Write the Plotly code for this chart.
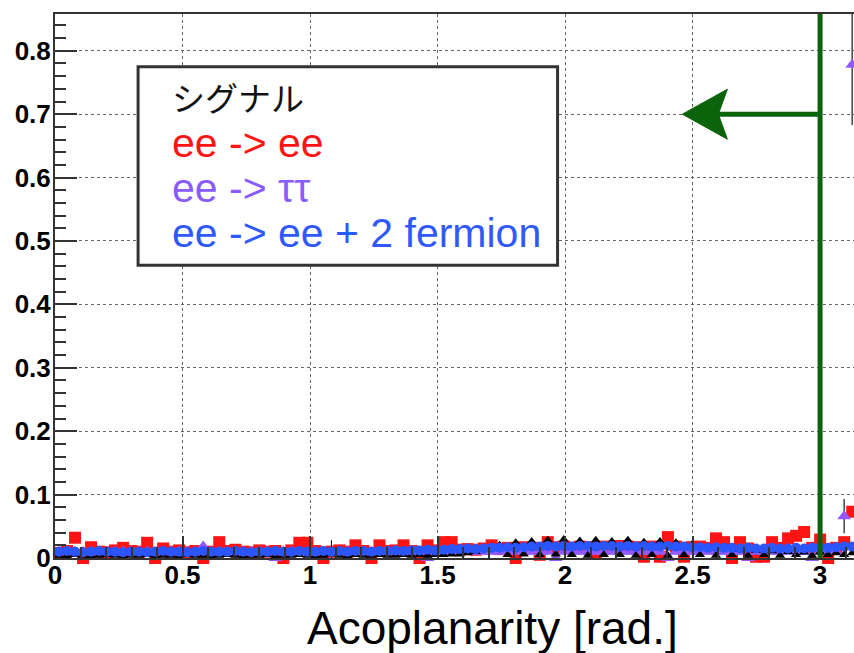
import numpy as np
import plotly.graph_objects as go

# ---------------- data ----------------
N_BINS = 100
X_MIN, X_MAX = 0.0, np.pi
edges = np.linspace(X_MIN, X_MAX, N_BINS + 1)
bin_centers = 0.5 * (edges[:-1] + edges[1:])

signal_vals = [
    0.004, 0.003, 0.005, 0.004, 0.003, 0.004, 0.005, 0.004, 0.003, 0.004,
    0.004, 0.005, 0.003, 0.004, 0.004, 0.003, 0.005, 0.004, 0.004, 0.003,
    0.004, 0.005, 0.004, 0.003, 0.004, 0.004, 0.005, 0.003, 0.004, 0.004,
    0.005, 0.004, 0.003, 0.004, 0.006, 0.004, 0.003, 0.005, 0.004, 0.004,
    0.005, 0.004, 0.004, 0.005, 0.004, 0.005, 0.004, 0.005, 0.005, 0.006,
    0.006, 0.008, 0.010, 0.014, 0.017, 0.020, 0.005, 0.024, 0.006, 0.026,
    0.005, 0.028, 0.006, 0.029, 0.005, 0.027, 0.004, 0.028, 0.005, 0.026,
    0.005, 0.028, 0.004, 0.025, 0.005, 0.026, 0.004, 0.024, 0.005, 0.021,
    0.005, 0.017, 0.004, 0.015, 0.005, 0.013, 0.004, 0.012, 0.005, 0.011,
    0.004, 0.010, 0.005, 0.009, 0.004, 0.009, 0.005, 0.008, 0.005, 0.008,
]
signal_err = [0.003] * 34 + [0.022] + [0.003] * 65

ee_ee_vals = [
    0.008, 0.011, 0.032, 0.000, 0.017, 0.010, 0.009, 0.012, 0.016, 0.011,
    0.010, 0.024, 0.000, 0.015, 0.010, 0.012, 0.009, 0.011, 0.000, 0.010,
    0.025, 0.011, 0.013, 0.010, 0.009, 0.012, 0.010, 0.011, 0.000, 0.012,
    0.024, 0.024, 0.011, 0.000, 0.010, 0.012, 0.010, 0.020, 0.011, 0.000,
    0.020, 0.011, 0.012, 0.020, 0.011, 0.000, 0.020, 0.012, 0.025, 0.025,
    0.013, 0.014, 0.013, 0.015, 0.020, 0.014, 0.016, 0.000, 0.017, 0.016,
    0.005, 0.025, 0.017, 0.018, 0.016, 0.018, 0.017, 0.008, 0.018, 0.017,
    0.019, 0.018, 0.017, 0.002, 0.018, 0.002, 0.033, 0.018, 0.002, 0.017,
    0.018, 0.016, 0.031, 0.025, 0.000, 0.025, 0.015, 0.002, 0.002, 0.025,
    0.016, 0.031, 0.035, 0.041, 0.016, 0.029, 0.000, 0.016, 0.025, 0.073,
]

ee_tautau_vals = [0.010] * N_BINS
for _b, _v in [(18, 0.018), (27, 0.000), (46, 0.000), (62, 0.000), (76, 0.000),
               (86, 0.000), (94, 0.000), (98, 0.066), (99, 0.778)]:
    ee_tautau_vals[_b] = _v
ee_tautau_err = [0.004] * N_BINS
for _b, _e in [(18, 0.008), (98, 0.027), (99, 0.095)]:
    ee_tautau_err[_b] = _e

ee_2f_vals = [
    0.010, 0.011, 0.010, 0.009, 0.010, 0.011, 0.010, 0.010, 0.009, 0.010,
    0.010, 0.009, 0.010, 0.011, 0.010, 0.010, 0.009, 0.010, 0.011, 0.010,
    0.010, 0.010, 0.011, 0.010, 0.009, 0.010, 0.010, 0.011, 0.010, 0.010,
    0.011, 0.010, 0.010, 0.011, 0.010, 0.011, 0.010, 0.011, 0.011, 0.010,
    0.011, 0.011, 0.012, 0.011, 0.012, 0.012, 0.013, 0.012, 0.013, 0.014,
    0.014, 0.015, 0.014, 0.015, 0.016, 0.016, 0.017, 0.016, 0.017, 0.018,
    0.018, 0.019, 0.018, 0.019, 0.018, 0.019, 0.019, 0.018, 0.019, 0.019,
    0.018, 0.019, 0.018, 0.019, 0.018, 0.018, 0.019, 0.018, 0.018, 0.017,
    0.017, 0.016, 0.017, 0.016, 0.016, 0.015, 0.016, 0.015, 0.015, 0.016,
    0.015, 0.015, 0.016, 0.015, 0.016, 0.017, 0.016, 0.017, 0.018, 0.018,
]
ee_2f_err = [0.002] * N_BINS

legend_labels = ["シグナル", "ee -> ee", "ee -> ττ", "ee -> ee + 2 fermion"]
x_ticks = [0, 0.5, 1, 1.5, 2, 2.5, 3]
y_ticks = [0, 0.1, 0.2, 0.3, 0.4, 0.5, 0.6, 0.7, 0.8]
x_title = "Acoplanarity [rad.]"

CUT_VALUE = 3.0
ARROW_TIP = 2.46
ARROW_Y = 0.7

X_RANGE = [0, 3.133]
Y_RANGE = [0, 0.858]

# ---------------- styles ----------------
C_SIG = "#000000"
C_EE = "#ff1414"
C_TAU = "#9358ff"
C_2F = "#2b55ff"
C_GREEN = "#0b630b"
AX = "#333333"
TICKFONT = dict(family="Liberation Sans", size=26, color="black", weight="bold")

fig = go.Figure()

fig.add_trace(go.Scatter(
    x=bin_centers, y=ee_ee_vals, mode="markers", cliponaxis=False,
    marker=dict(symbol="square", size=12, color=C_EE, line=dict(width=0)),
    name=legend_labels[1]))
fig.add_trace(go.Scatter(
    x=bin_centers, y=ee_tautau_vals, mode="markers", cliponaxis=False,
    marker=dict(symbol="triangle-up", size=12, color=C_TAU, line=dict(width=0)),
    error_y=dict(type="data", array=ee_tautau_err, color="#444444", thickness=1.5, width=0),
    name=legend_labels[2]))
fig.add_trace(go.Scatter(
    x=bin_centers, y=signal_vals, mode="markers", cliponaxis=False,
    marker=dict(symbol="triangle-up", size=9, color=C_SIG, line=dict(width=0)),
    error_y=dict(type="data", array=signal_err, color=C_SIG, thickness=1, width=0),
    name=legend_labels[0]))
fig.add_trace(go.Scatter(
    x=bin_centers, y=ee_2f_vals, mode="markers", cliponaxis=False,
    marker=dict(symbol="circle", size=10, color=C_2F, line=dict(width=0)),
    error_y=dict(type="data", array=ee_2f_err, color=C_2F, thickness=1, width=0),
    name=legend_labels[3]))

axis_common = dict(
    ticks="inside", ticklen=22, tickwidth=1.5, tickcolor=AX,
    showline=True, linecolor=AX, linewidth=2,
    showgrid=True, gridcolor="#666666", gridwidth=1, griddash="3px,3px",
    zeroline=False, tickfont=TICKFONT, automargin=False,
)
fig.update_xaxes(range=X_RANGE, tickvals=x_ticks, mirror=True,
                 minor=dict(dtick=0.1, ticks="inside", ticklen=11, tickcolor=AX,
                            tickwidth=1.5, showgrid=False),
                 ticklabelstandoff=-7, **axis_common)
fig.update_yaxes(range=Y_RANGE, tickvals=y_ticks, mirror=False,
                 minor=dict(dtick=0.02, ticks="inside", ticklen=11, tickcolor=AX,
                            tickwidth=1.5, showgrid=False),
                 ticklabelstandoff=-3, **axis_common)

# cut line and arrow
fig.add_shape(type="line", xref="x", yref="paper", x0=CUT_VALUE, x1=CUT_VALUE,
              y0=0, y1=1, line=dict(color=C_GREEN, width=5), layer="above")
fig.add_shape(type="line", xref="x", yref="y", x0=CUT_VALUE, x1=ARROW_TIP + 0.12,
              y0=ARROW_Y, y1=ARROW_Y, line=dict(color=C_GREEN, width=5), layer="above")
fig.add_shape(type="path", xref="x", yref="y", xsizemode="pixel", ysizemode="pixel",
              xanchor=ARROW_TIP, yanchor=ARROW_Y,
              path="M0,0 L45,25 L36,0 L45,-25 Z",
              fillcolor=C_GREEN, line=dict(color=C_GREEN, width=1), layer="above")

# legend box
fig.add_shape(type="rect", xref="paper", yref="paper", x0=0.104, x1=0.629,
              y0=0.538, y1=0.903, fillcolor="white",
              line=dict(color="#333333", width=3), layer="above")
leg_colors = ["#111111", C_EE, "#8a5cff", "#3058ff"]
leg_y = [0.848, 0.763, 0.680, 0.597]
for lab, col, yy, i in zip(legend_labels, leg_colors, leg_y, range(4)):
    fam = "Noto Sans CJK JP" if i == 0 else "Liberation Sans"
    size = 33 if i == 0 else 41
    fig.add_annotation(text=lab, xref="paper", yref="paper", x=0.144, y=yy,
                       xanchor="left", yanchor="middle", showarrow=False,
                       font=dict(family=fam, size=size, color=col))

fig.add_annotation(text=x_title, xref="paper", yref="paper", x=0.547, y=-0.129,
                   xanchor="center", yanchor="middle", showarrow=False,
                   font=dict(family="Liberation Sans", size=46, color="black"))

fig.update_layout(width=854, height=653, margin=dict(l=55, r=0, t=14, b=95),
                  plot_bgcolor="white", paper_bgcolor="white", showlegend=False)

fig.write_html("out.html", config={"displayModeBar": False},
               post_script="document.body.style.margin='0px';"
                           "document.body.style.overflow='hidden';")
